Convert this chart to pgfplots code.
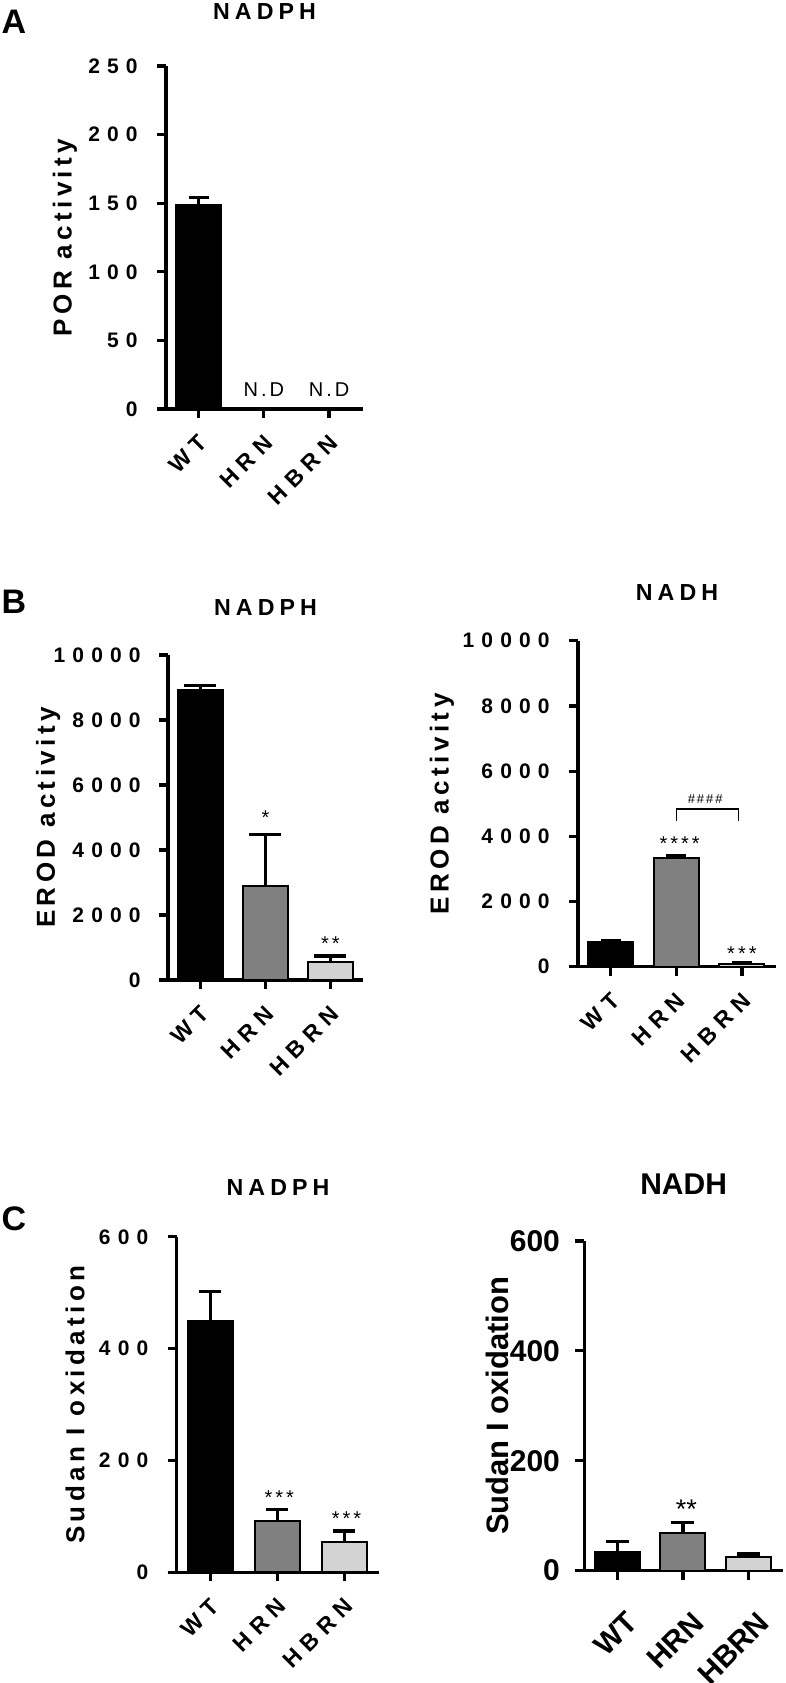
\documentclass[border=0pt]{standalone}
\usepackage{fontspec}
\setmainfont{Liberation Sans}
\newfontfamily\trk[LetterSpace=34]{Liberation Sans}  % tick labels
\newfontfamily\trkx[LetterSpace=30]{Liberation Sans} % category labels
\newfontfamily\trkt[LetterSpace=22]{Liberation Sans} % titles
\newfontfamily\trkl[LetterSpace=17]{Liberation Sans} % axis labels
\newfontfamily\trks[LetterSpace=15]{Liberation Sans} % stars, N.D
\usepackage{pgfplots}
\pgfplotsset{compat=1.18}
\definecolor{hrn}{RGB}{128,128,128}
\definecolor{hbrn}{RGB}{211,211,211}

\pgfplotsset{
  panel/.style={
    scale only axis, clip=false,
    axis x line=bottom, axis y line=left,
    axis line style={-, line width=1.6pt},
    x axis line style={shorten <=-4.5pt},
    tick align=outside,
    major tick length=4.5pt,
    every tick/.style={black, line width=1.6pt},
    ybar, bar width=22.5pt,
    xmin=-0.5, xmax=2.52, ymin=0,
    enlargelimits=false, scaled y ticks=false,
    xtick={0,1,2}, xticklabels={WT,HRN,HBRN},
    every axis title shift=0pt,
    xticklabel style={font=\trkx\bfseries\fontsize{11.5}{13}\selectfont},
    yticklabel style={anchor=east, inner sep=0pt,
      font=\trk\bfseries\fontsize{10.5}{12}\selectfont},
    title style={at={(0.5,1)}, anchor=center, font=\trkt\bfseries\fontsize{11.6}{13}\selectfont},
    ylabel style={anchor=center, font=\trkl\bfseries\fontsize{13}{15}\selectfont},
  },
  % rotated category labels, shifted on the page before rotation
  tlab/.style 2 args={xticklabel style={xshift=#1, yshift=#2, rotate=45, anchor=north east, inner sep=0pt}},
  bar/.style={fill=#1, draw=black, line width=1pt, bar shift=0pt,
    /pgfplots/error bars/y dir=plus,
    /pgfplots/error bars/y explicit,
    /pgfplots/error bars/error bar style={line width=1.6pt, black},
    /pgfplots/error bars/error mark options={rotate=90, mark size=5pt, line width=1.6pt, black}},
  cap/.style={/pgfplots/error bars/error mark options={rotate=90, mark size=#1, line width=1.6pt, black}},
}

\begin{document}
\begin{tikzpicture}
\path[use as bounding box] (0,0) rectangle (393pt,-841.5pt);

% panel letters
\node[font=\bfseries\fontsize{17}{20}\selectfont, inner sep=0] at (7pt,-11pt) {A};
\node[font=\bfseries\fontsize{17}{20}\selectfont, inner sep=0] at (7pt,-301pt) {B};
\node[font=\bfseries\fontsize{17}{20}\selectfont, inner sep=0] at (7pt,-609.5pt) {C};

% A: POR activity, NADPH
\begin{axis}[panel, tlab={-0.5pt}{-7.5pt}, at={(83pt,-204.5pt)}, anchor=south west,
  width=98.5pt, height=171.5pt,
  yticklabel style={xshift=-9.5pt},
  ymax=250, ytick={0,50,100,150,200,250}, yticklabels={0,50,100,150,200,250},
  title={NADPH}, title style={yshift=27pt},
  ylabel={POR activity}, ylabel style={at={(axis description cs:-0.513,0.5)}}]
\addplot[bar=black] coordinates {(0,149) +- (0,5)};
\node[font=\trks\fontsize{10}{12}\selectfont] at (axis cs:1,14) {N.D};
\node[font=\trks\fontsize{10}{12}\selectfont] at (axis cs:2,14) {N.D};
\end{axis}

% B left: EROD activity, NADPH
\begin{axis}[panel, tlab={-0.5pt}{-7.5pt}, at={(84pt,-490pt)}, anchor=south west,
  width=97.5pt, height=162.5pt, xmax=2.5,
  yticklabel style={xshift=-9pt},
  ymax=10000, ytick={0,2000,4000,6000,8000,10000}, yticklabels={0,2000,4000,6000,8000,10000},
  title={NADPH}, title style={yshift=23.5pt},
  ylabel={EROD activity}, ylabel style={at={(axis description cs:-0.615,0.5)}}]
\addplot[bar=black, cap=8pt] coordinates {(0,8920) +- (0,130)};
\addplot[bar=hrn, cap=8pt] coordinates {(1,2900) +- (0,1580)};
\addplot[bar=hbrn, cap=8pt] coordinates {(2,545) +- (0,195)};
\node[font=\trks\fontsize{10}{12}\selectfont] at (axis cs:1,4985) {*};
\node[font=\trks\fontsize{10}{12}\selectfont] at (axis cs:2,1108) {**};
\end{axis}

% B right: EROD activity, NADH
\begin{axis}[panel, tlab={-0.5pt}{-7.5pt}, at={(289pt,-483.35pt)}, anchor=south west,
  width=99pt, height=163pt,
  yticklabel style={xshift=-9.5pt},
  ymax=10000, ytick={0,2000,4000,6000,8000,10000}, yticklabels={0,2000,4000,6000,8000,10000},
  title={NADH}, title style={yshift=24pt},
  ylabel={EROD activity}, ylabel style={at={(axis description cs:-0.687,0.5)}}]
\addplot[bar=black] coordinates {(0,760) +- (0,50)};
\addplot[bar=hrn] coordinates {(1,3350) +- (0,50)};
\addplot[bar=hbrn] coordinates {(2,80) +- (0,50)};
\node[font=\trks\fontsize{10}{12}\selectfont] at (axis cs:1.05,3773) {****};
\node[font=\trks\fontsize{10}{12}\selectfont] at (axis cs:2,399) {***};
\draw[line width=0.8pt] (axis cs:1,4479) -- (axis cs:1,4847) -- (axis cs:1.95,4847) -- (axis cs:1.95,4479);
\node[font=\trks\fontsize{6.5}{8}\selectfont] at (axis cs:1.44,5153) {\#\#\#\#};
\end{axis}

% C left: Sudan I oxidation, NADPH
\begin{axis}[panel, tlab={-0.5pt}{-7.5pt}, at={(88.35pt,-786.15pt)}, anchor=south west,
  width=101.3pt, height=167.75pt,
  yticklabel style={xshift=-9.5pt},
  ymax=600, ytick={0,200,400,600}, yticklabels={0,200,400,600},
  title={NADPH}, title style={yshift=24.65pt},
  ylabel={Sudan I oxidation}, ylabel style={at={(axis description cs:-0.502,0.5)}}]
\addplot[bar=black, cap=5.5pt] coordinates {(0,450) +- (0,52)};
\addplot[bar=hrn, cap=5.5pt] coordinates {(1,91) +- (0,22)};
\addplot[bar=hbrn, cap=5.5pt] coordinates {(2,55) +- (0,19)};
\node[font=\trks\fontsize{10}{12}\selectfont] at (axis cs:1.03,134) {***};
\node[font=\trks\fontsize{10}{12}\selectfont] at (axis cs:2.03,96) {***};
\end{axis}

% C right: Sudan I oxidation, NADH
\begin{axis}[panel, tlab={3.97pt}{-15.05pt}, at={(292.15pt,-785.25pt)}, anchor=south west,
  width=99.35pt, height=164.75pt,
  ymax=600, ytick={0,200,400,600}, yticklabels={0,200,400,600},
  xticklabel style={font=\bfseries\fontsize{15}{17}\selectfont},
  yticklabel style={xshift=-7.5pt, font=\bfseries\fontsize{15}{17}\selectfont},
  title={NADH}, title style={yshift=28.5pt, font=\bfseries\fontsize{15}{17}\selectfont},
  ylabel={Sudan I oxidation}, ylabel style={at={(axis description cs:-0.439,0.5)}, font=\bfseries\fontsize{15.5}{18}\selectfont}]
\addplot[bar=black, cap=5.75pt] coordinates {(0,34) +- (0,19)};
\addplot[bar=hrn, cap=5.75pt] coordinates {(1,69) +- (0,18)};
\addplot[bar=hbrn, cap=5.75pt] coordinates {(2,24) +- (0,6)};
\node[font=\fontsize{13.5}{16}\selectfont] at (axis cs:1.05,112) {**};
\end{axis}
\end{tikzpicture}
\end{document}
